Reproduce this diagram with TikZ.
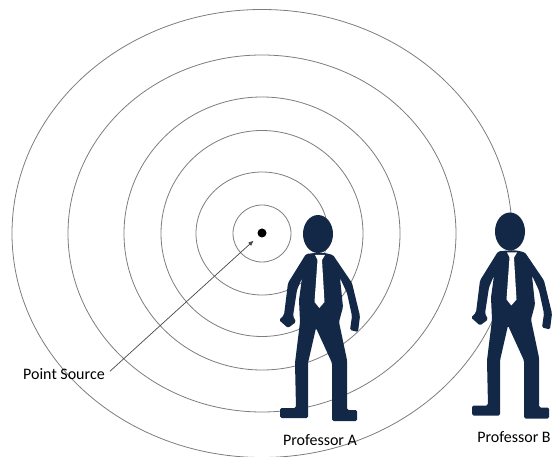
\documentclass[tikz,border=0pt]{standalone}
\usepackage{fontspec}
\setmainfont{Carlito}
\usetikzlibrary{arrows.meta,positioning}
\definecolor{SuitColor}{RGB}{18,40,70}
\definecolor{WaveColor}{RGB}{125,125,125}
\definecolor{ArrowColor}{RGB}{70,70,70}
\tikzset{
  wave/.style={draw=WaveColor,line width=0.8pt},
  tag/.style={font=\fontsize{16}{19}\selectfont,inner sep=2pt},
  professor/.pic={
    \fill[SuitColor,rounded corners=1.5pt]
      (-3,19) -- (-12,20) -- (-30,49) -- (-34,81) -- (-39,86) -- (-30,94)
      -- (-22,88) -- (-25,82) -- (-21,56) -- (-16,44) -- (-19,66) -- (-18,88)
      -- (-23,129) -- (-22,174) -- (-38,174) -- (-38,184) -- (-10,184)
      -- (-10,129) -- (-2,94) -- (14,129) -- (14,187) -- (39,187) -- (39,176)
      -- (29,176) -- (29,126) -- (21,88) -- (25,73) -- (22,44) -- (29,59)
      -- (34,82) -- (32,96) -- (40,98) -- (42,82) -- (34,49) -- (15,21)
      -- (7,19) -- cycle;
    \fill[white] (-3,21) -- (7,21) -- (4,26) -- (6.5,68) -- (1.3,74)
      -- (-3.5,68) -- (-0.5,26) -- cycle;
    \fill[SuitColor] (0,0) ellipse [x radius=15,y radius=19];
  }
}

\begin{document}
\begin{tikzpicture}[x=1pt,y=-1pt]
\useasboundingbox (0,0) rectangle (552,457);
\foreach \rx/\ry in {29/28.5,66/61.5,101/103,138/136.5,194/178.5,250/224}
  \draw[wave] (262,233.5) ellipse [x radius=\rx,y radius=\ry];
\node[circle,fill=black,minimum size=9pt,inner sep=0pt] (source) at (262,233) {};
\node[tag,anchor=west] (src) at (21,374) {Point Source};
\draw[ArrowColor,line width=0.7pt,-{Triangle[length=5pt,width=4pt]},
      shorten >=7pt,shorten <=4pt] (src.east) -- (source);
\pic at (318,234) {professor};
\pic at (510,231.5) {professor};
\node[tag] (profA) at (320,440) {Professor A};
\node[tag] (profB) at (514,437) {Professor B};
\end{tikzpicture}
\end{document}
